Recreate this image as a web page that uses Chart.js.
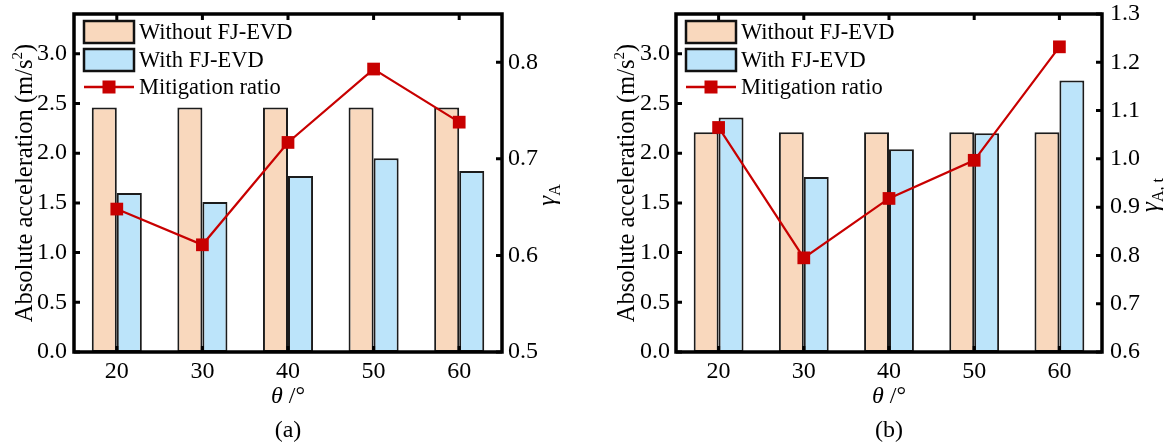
<!DOCTYPE html>
<html>
<head>
<meta charset="utf-8">
<script src="https://cdn.jsdelivr.net/npm/chart.js@4.4.1/dist/chart.umd.min.js"></script>
<style>
  html, body { margin: 0; padding: 0; background: #fff; }
  #wrap { position: relative; width: 1164px; height: 447px; }
  #wrap canvas { position: absolute; top: 0; }
</style>
</head>
<body>
<div id="wrap">
  <canvas id="chartA" width="582" height="447" style="left:0"></canvas>
  <canvas id="chartB" width="582" height="447" style="left:582px"></canvas>
</div>
<script>
// Inclination angle categories (θ, degrees)
const angles = ['20', '30', '40', '50', '60'];
const seriesNames = ['Without FJ-EVD', 'With FJ-EVD', 'Mitigation ratio'];

// Panel (a): absolute acceleration (m/s²) and mitigation ratio γA
const accWithoutA = [2.46, 2.46, 2.46, 2.46, 2.46];
const accWithA    = [1.60, 1.51, 1.77, 1.95, 1.82];
const ratioA      = [0.648, 0.611, 0.717, 0.793, 0.738];

// Panel (b): absolute acceleration (m/s²) and mitigation ratio γA,t
const accWithoutB = [2.21, 2.21, 2.21, 2.21, 2.21];
const accWithB    = [2.36, 1.76, 2.04, 2.20, 2.73];
const ratioB      = [1.065, 0.795, 0.918, 0.997, 1.232];

// Axis ranges
const accRange    = { min: 0, max: 3.4, step: 0.5 };
const ratioRangeA = { min: 0.5, max: 0.85, step: 0.1 };
const ratioRangeB = { min: 0.6, max: 1.3, step: 0.1 };

const SERIF = '"Liberation Serif", "Times New Roman", serif';
const INK = '#000';
const PEACH = '#F9D8BD';
const SKY = '#BCE4FA';
const RED = '#C80000';

// Frame with inward tick marks on all four sides
const framePlugin = {
  id: 'frame',
  afterDatasetsDraw(chart) {
    const { ctx, chartArea: a, scales } = chart;
    ctx.save();
    ctx.strokeStyle = '#000';
    ctx.lineWidth = 3;
    ctx.beginPath();
    scales.y.ticks.forEach(t => {
      const y = scales.y.getPixelForValue(t.value);
      ctx.moveTo(a.left, y); ctx.lineTo(a.left + 6, y);
    });
    scales.y1.ticks.forEach(t => {
      const y = scales.y1.getPixelForValue(t.value);
      ctx.moveTo(a.right, y); ctx.lineTo(a.right - 6, y);
    });
    scales.x.ticks.forEach((t, i) => {
      const x = scales.x.getPixelForTick(i);
      ctx.moveTo(x, a.bottom); ctx.lineTo(x, a.bottom - 6);
      ctx.moveTo(x, a.top); ctx.lineTo(x, a.top + 6);
    });
    ctx.stroke();
    ctx.lineWidth = 3.5;
    ctx.strokeRect(a.left, a.top, a.right - a.left, a.bottom - a.top);
    ctx.restore();
  }
};

// Axis titles, panel caption and the legend inside the plot
const textPlugin = {
  id: 'texts',
  afterDraw(chart, args, opts) {
    const { ctx, chartArea: a } = chart;
    const cx = (a.left + a.right) / 2;
    ctx.save();
    ctx.fillStyle = INK;
    ctx.textBaseline = 'alphabetic';

    // Left axis title, rotated, with superscript
    ctx.save();
    ctx.translate(a.left - 50, (a.top + a.bottom) / 2);
    ctx.rotate(-Math.PI / 2);
    const big = '24.5px ' + SERIF, sup = '15px ' + SERIF;
    const p1 = 'Absolute acceleration (m/s', p2 = '2', p3 = ')';
    ctx.font = big; const w1 = ctx.measureText(p1).width, w3 = ctx.measureText(p3).width;
    ctx.font = sup; const w2 = ctx.measureText(p2).width;
    let x0 = -(w1 + w2 + w3) / 2;
    ctx.font = big; ctx.fillText(p1, x0, 8);
    ctx.font = sup; ctx.fillText(p2, x0 + w1, -2);
    ctx.font = big; ctx.fillText(p3, x0 + w1 + w2, 8);
    ctx.restore();

    // Bottom axis title: θ /°
    ctx.font = 'italic 24px ' + SERIF;
    const th = 'θ';
    const wth = ctx.measureText(th).width;
    ctx.font = '24px ' + SERIF;
    const rest = ' /°';
    const wr = ctx.measureText(rest).width;
    let xs = cx - (wth + wr) / 2;
    ctx.font = 'italic 24px ' + SERIF; ctx.fillText(th, xs, 403);
    ctx.font = '24px ' + SERIF; ctx.fillText(rest, xs + wth, 403);

    // Panel caption
    ctx.textAlign = 'center';
    ctx.font = '24px ' + SERIF;
    ctx.fillText(opts.caption, cx, 437);
    ctx.textAlign = 'left';

    // Right axis title: γ with subscript, rotated
    ctx.save();
    ctx.translate(a.right + opts.gammaOffset, 195);
    ctx.rotate(-Math.PI / 2);
    ctx.font = 'italic 25px ' + SERIF;
    const wg = ctx.measureText('γ').width;
    ctx.font = '16px ' + SERIF;
    const ws = ctx.measureText(opts.sub).width;
    const gx = -(wg + ws) / 2;
    ctx.font = 'italic 25px ' + SERIF; ctx.fillText('γ', gx, 0);
    ctx.font = '16px ' + SERIF; ctx.fillText(opts.sub, gx + wg, 5);
    ctx.restore();

    // Legend
    const ds = chart.data.datasets;
    const lx = a.left + 10, boxW = 50, boxH = 22;
    const rows = [a.top + 18, a.top + 46, a.top + 73];
    ctx.font = '22.5px ' + SERIF;
    ctx.textBaseline = 'middle';
    ds.forEach((d, i) => {
      const yc = rows[i];
      if (d.type === 'line') {
        ctx.strokeStyle = d.borderColor; ctx.lineWidth = 2.5;
        ctx.beginPath(); ctx.moveTo(lx, yc); ctx.lineTo(lx + boxW, yc); ctx.stroke();
        ctx.fillStyle = d.pointBackgroundColor;
        ctx.fillRect(lx + boxW / 2 - 6.5, yc - 6.5, 13, 13);
      } else {
        ctx.fillStyle = d.backgroundColor;
        ctx.fillRect(lx, yc - boxH / 2, boxW, boxH);
        ctx.strokeStyle = '#111'; ctx.lineWidth = 2.5;
        ctx.strokeRect(lx, yc - boxH / 2, boxW, boxH);
      }
      ctx.fillStyle = INK;
      ctx.fillText(d.label, lx + boxW + 5, yc + 1);
    });
    ctx.restore();
  }
};

function buildChart(id, opt) {
  const tickFont = { family: SERIF, size: 24 };
  const noPad = s => { s.paddingTop = 0; s.paddingBottom = 0; };
  return new Chart(document.getElementById(id), {
    data: {
      labels: angles,
      datasets: [
        { type: 'bar', label: seriesNames[0], data: opt.without, yAxisID: 'y',
          backgroundColor: PEACH, borderColor: '#1c1c1c', borderWidth: 2,
          borderSkipped: false, categoryPercentage: 0.585, barPercentage: 1, order: 2 },
        { type: 'bar', label: seriesNames[1], data: opt.withDev, yAxisID: 'y',
          backgroundColor: SKY, borderColor: '#1c1c1c', borderWidth: 2,
          borderSkipped: false, categoryPercentage: 0.585, barPercentage: 1, order: 2 },
        { type: 'line', label: seriesNames[2], data: opt.ratio, yAxisID: 'y1',
          borderColor: RED, borderWidth: 2.2, pointStyle: 'rect', pointRadius: 9,
          pointBackgroundColor: RED, pointBorderColor: RED, pointBorderWidth: 0,
          tension: 0, order: 0 }
      ]
    },
    options: {
      responsive: false,
      animation: false,
      devicePixelRatio: 1,
      layout: { padding: { top: 14, left: 0, right: 0, bottom: 0 } },
      plugins: {
        legend: { display: false },
        tooltip: { enabled: false },
        texts: { caption: opt.caption, sub: opt.sub, gammaOffset: opt.gammaOffset }
      },
      scales: {
        x: {
          type: 'category', offset: true,
          grid: { display: false, drawTicks: false }, border: { display: false },
          ticks: { font: tickFont, color: INK, padding: 5, maxRotation: 0 },
          afterFit: s => { s.height = 95; s.paddingLeft = 0; s.paddingRight = 0; }
        },
        y: {
          position: 'left', min: accRange.min, max: accRange.max,
          grid: { display: false, drawTicks: false }, border: { display: false },
          ticks: { stepSize: accRange.step, includeBounds: false, font: tickFont, color: INK,
                   padding: opt.leftPad, callback: v => v.toFixed(1) },
          afterFit: s => { s.width = opt.leftW; noPad(s); }
        },
        y1: {
          position: 'right', min: opt.rr.min, max: opt.rr.max,
          grid: { display: false, drawTicks: false }, border: { display: false },
          ticks: { stepSize: opt.rr.step, includeBounds: false, font: tickFont, color: INK,
                   padding: opt.rightPad, callback: v => v.toFixed(1) },
          afterFit: s => { s.width = opt.rightW; noPad(s); }
        }
      }
    },
    plugins: [framePlugin, textPlugin]
  });
}

buildChart('chartA', {
  without: accWithoutA, withDev: accWithA, ratio: ratioA, rr: ratioRangeA,
  leftW: 74, rightW: 80, leftPad: 7, rightPad: 6, caption: '(a)', sub: 'A', gammaOffset: 53
});
buildChart('chartB', {
  without: accWithoutB, withDev: accWithB, ratio: ratioB, rr: ratioRangeB,
  leftW: 94, rightW: 62, leftPad: 6, rightPad: 8, caption: '(b)', sub: 'A, t', gammaOffset: 56
});
</script>
</body>
</html>
